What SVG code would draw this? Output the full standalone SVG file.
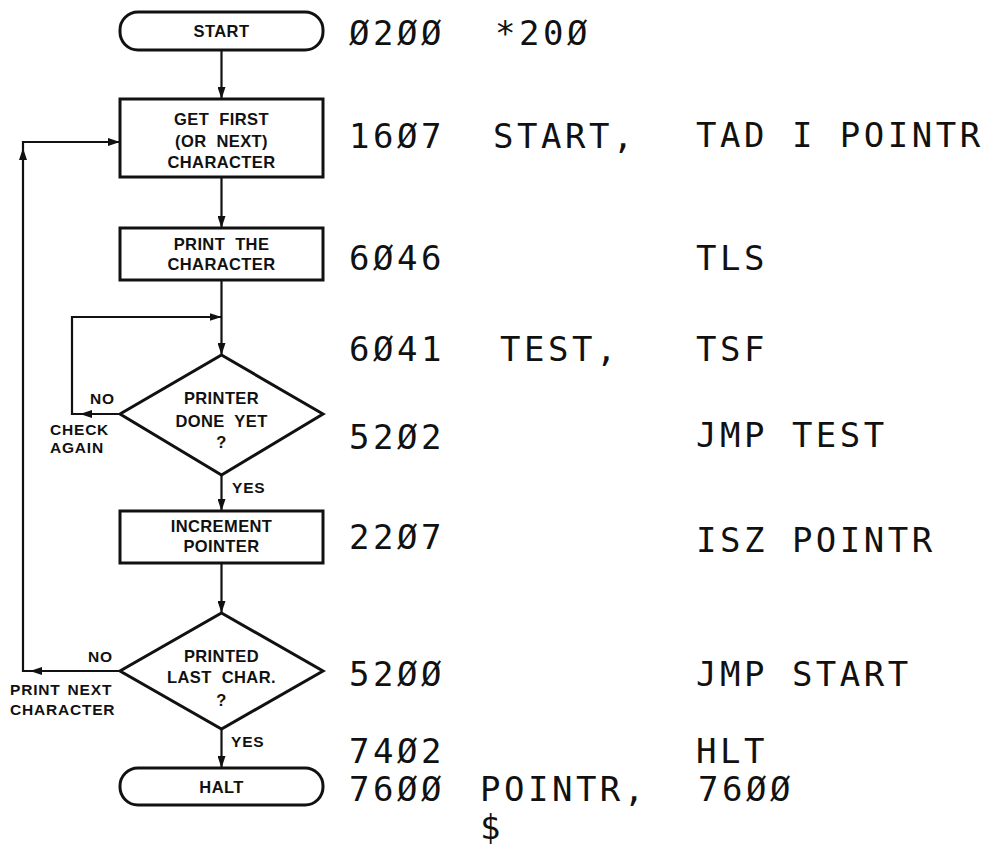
<svg xmlns="http://www.w3.org/2000/svg" width="991" height="848" viewBox="0 0 991 848">
  <defs>
    <marker id="ah" markerUnits="userSpaceOnUse" markerWidth="12" markerHeight="8" refX="12" refY="4" orient="auto">
      <path d="M0,0 L12,4 L0,8 z" fill="#111"/>
    </marker>
    <style>
      .node { fill: #fff; stroke: #111; stroke-width: 3; }
      .lbl { font-family: "Liberation Sans", Arial, sans-serif; font-weight: bold; font-size: 16.5px; fill: #111; text-anchor: middle; letter-spacing: 0.4px; word-spacing: 5px; }
      .side { font-family: "Liberation Sans", Arial, sans-serif; font-weight: bold; font-size: 15.5px; fill: #111; letter-spacing: 0.8px; word-spacing: 2px; }
      .code { font-family: "DejaVu Sans Mono", "Liberation Mono", monospace; font-size: 34px; letter-spacing: 3.5px; fill: #111; }
      .conn { fill: none; stroke: #111; stroke-width: 2.2; }
    </style>
  </defs>
  <rect width="991" height="848" fill="#fff"/>

  <g id="connectors">
    <path class="conn" d="M221.5,50 V99" marker-end="url(#ah)"/>
    <path class="conn" d="M221.5,177 V228" marker-end="url(#ah)"/>
    <path class="conn" d="M221.5,280 V355" marker-end="url(#ah)"/>
    <path class="conn" d="M120,414 H80" marker-end="url(#ah)"/>
    <path class="conn" d="M80,414 H72 V317 H221.5" marker-end="url(#ah)"/>
    <path class="conn" d="M221.5,475 V511" marker-end="url(#ah)"/>
    <path class="conn" d="M221.5,563 V613" marker-end="url(#ah)"/>
    <path class="conn" d="M221.5,729 V768" marker-end="url(#ah)"/>
    <path class="conn" d="M120,671 H30" marker-end="url(#ah)"/>
    <path class="conn" d="M30,671 H23 V148" marker-end="url(#ah)"/>
    <path class="conn" d="M23,148 V142 H120" marker-end="url(#ah)"/>
    <text class="side" x="90" y="404">NO</text>
    <text class="side" x="50" y="435">CHECK</text>
    <text class="side" x="50" y="453">AGAIN</text>
    <text class="side" x="232" y="493">YES</text>
    <text class="side" x="88" y="662">NO</text>
    <text class="side" x="10" y="695">PRINT NEXT</text>
    <text class="side" x="10" y="715">CHARACTER</text>
    <text class="side" x="231" y="747">YES</text>
  </g>

  <g id="start">
    <rect class="node" x="120" y="12" width="203" height="38" rx="18" ry="18"/>
    <text class="lbl" x="221.5" y="37">START</text>
  </g>
  <g id="get-char">
    <rect class="node" x="120" y="99" width="203" height="78"/>
    <text class="lbl" x="221.5" y="125">GET FIRST</text>
    <text class="lbl" x="221.5" y="147">(OR NEXT)</text>
    <text class="lbl" x="221.5" y="168">CHARACTER</text>
  </g>
  <g id="print-char">
    <rect class="node" x="120" y="228" width="203" height="52"/>
    <text class="lbl" x="221.5" y="250">PRINT THE</text>
    <text class="lbl" x="221.5" y="270">CHARACTER</text>
  </g>
  <g id="printer-done">
    <polygon class="node" points="221.5,355 323,414 221.5,475 120,414"/>
    <text class="lbl" x="221.5" y="404">PRINTER</text>
    <text class="lbl" x="221.5" y="427">DONE YET</text>
    <text class="lbl" x="221.5" y="448">?</text>
  </g>
  <g id="increment">
    <rect class="node" x="120" y="511" width="203" height="52"/>
    <text class="lbl" x="221.5" y="532">INCREMENT</text>
    <text class="lbl" x="221.5" y="552">POINTER</text>
  </g>
  <g id="last-char">
    <polygon class="node" points="221.5,613 323,671 221.5,729 120,671"/>
    <text class="lbl" x="221.5" y="662">PRINTED</text>
    <text class="lbl" x="221.5" y="683">LAST CHAR.</text>
    <text class="lbl" x="221.5" y="706">?</text>
  </g>
  <g id="halt">
    <rect class="node" x="120" y="768" width="203" height="37" rx="18" ry="18"/>
    <text class="lbl" x="221.5" y="793">HALT</text>
  </g>

  <g id="listing">
    <text class="code" x="349" y="45">Ø2ØØ</text>
    <text class="code" x="495" y="45">*20Ø</text>
    <text class="code" x="349" y="148">16Ø7</text>
    <text class="code" x="493" y="148">START,</text>
    <text class="code" x="696" y="147">TAD I POINTR</text>
    <text class="code" x="349" y="270">6Ø46</text>
    <text class="code" x="696" y="270">TLS</text>
    <text class="code" x="349" y="361">6Ø41</text>
    <text class="code" x="500" y="361">TEST,</text>
    <text class="code" x="696" y="361">TSF</text>
    <text class="code" x="349" y="449">52Ø2</text>
    <text class="code" x="696" y="447">JMP TEST</text>
    <text class="code" x="349" y="549">22Ø7</text>
    <text class="code" x="696" y="552">ISZ POINTR</text>
    <text class="code" x="349" y="686">52ØØ</text>
    <text class="code" x="696" y="686">JMP START</text>
    <text class="code" x="349" y="763">74Ø2</text>
    <text class="code" x="696" y="763">HLT</text>
    <text class="code" x="349" y="801">76ØØ</text>
    <text class="code" x="480" y="801">POINTR,</text>
    <text class="code" x="698" y="801">76ØØ</text>
    <text class="code" x="480" y="839">$</text>
  </g>
</svg>
